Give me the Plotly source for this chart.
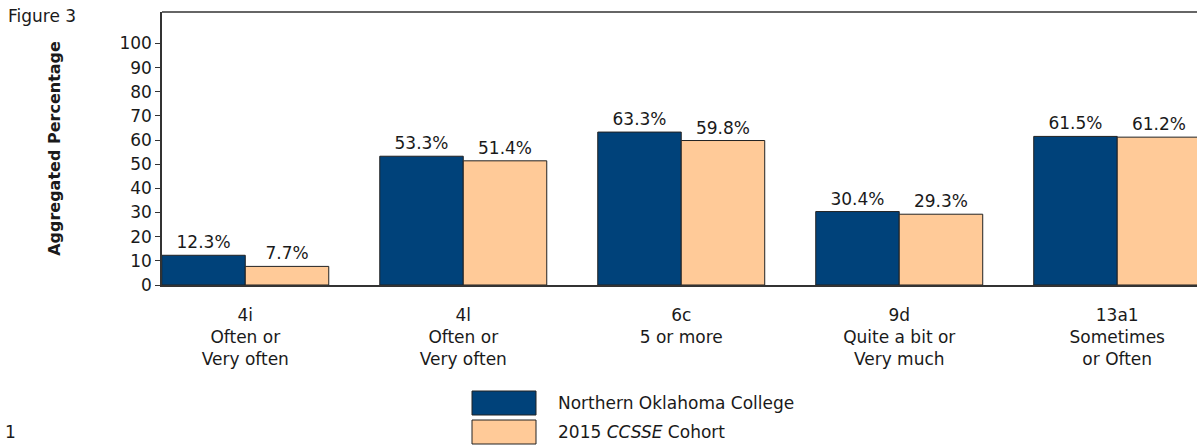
import plotly.graph_objects as go

categories = ["4i<br>Often or<br>Very often", "4l<br>Often or<br>Very often",
              "6c<br>5 or more", "9d<br>Quite a bit or<br>Very much",
              "13a1<br>Sometimes<br>or Often"]
college = [12.3, 53.3, 63.3, 30.4, 61.5]
cohort = [7.7, 51.4, 59.8, 29.3, 61.2]
series_names = ["Northern Oklahoma College", "2015 <i>CCSSE</i> Cohort"]
colors = ["#00427A", "#FFCA98"]
y_ticks = list(range(0, 101, 10))

FONT = "DejaVu Sans, Arial, sans-serif"
FS = 17
TXT = "#1a1a1a"

W, H = 1197, 447
ML, MR, MT, MB = 162, 0, 12, 162

fig = go.Figure()
for vals, name, col in zip([college, cohort], series_names, colors):
    fig.add_trace(go.Bar(
        x=list(range(len(categories))), y=vals, name=name,
        marker=dict(color=col, line=dict(color="#222222", width=1)),
        text=[f"{v:.1f}%" for v in vals], textposition="outside",
        textfont=dict(family=FONT, size=FS, color=TXT),
        cliponaxis=False, showlegend=False,
    ))

fig.update_layout(
    width=W, height=H,
    margin=dict(l=ML, r=MR, t=MT, b=MB),
    paper_bgcolor="white", plot_bgcolor="white",
    barmode="group", bargap=0.234, bargroupgap=0,
    font=dict(family=FONT, size=FS, color=TXT),
    xaxis=dict(
        tickmode="array", tickvals=list(range(len(categories))), ticktext=categories,
        range=[-0.382, 4.366], showgrid=False, zeroline=False,
        showline=True, linecolor="#333333", linewidth=1.5, ticks="",
        ticklabelstandoff=14,
        tickfont=dict(family=FONT, size=FS, color=TXT),
    ),
    yaxis=dict(
        range=[0, 113], tickmode="array", tickvals=y_ticks,
        showgrid=False, zeroline=False, showline=True, linecolor="#333333",
        linewidth=1.5, ticks="outside", ticklen=5, tickcolor="#333333",
        tickfont=dict(family=FONT, size=FS, color=TXT),
        title=dict(text="<b>Aggregated Percentage</b>", standoff=55,
                   font=dict(family=FONT, size=16, color=TXT)),
    ),
)

# top frame line
fig.add_shape(type="line", xref="paper", yref="paper", x0=0, x1=1, y0=1, y1=1,
              line=dict(color="#333333", width=1.5))

def py(pix):
    return (H - MB - pix) / (H - MT - MB)

def px(pix):
    return (pix - ML) / (W - ML - MR)

# custom legend
for i, (name, col) in enumerate(zip(series_names, colors)):
    top = 391 + i * 29
    fig.add_shape(type="rect", xref="paper", yref="paper",
                  x0=px(472), x1=px(536), y0=py(top), y1=py(top + 24),
                  fillcolor=col, line=dict(color="#222222", width=1))
    fig.add_annotation(xref="paper", yref="paper", x=px(556), y=py(top + 12),
                       text=name, showarrow=False, xanchor="left", yanchor="middle",
                       font=dict(family=FONT, size=FS, color=TXT))

fig.add_annotation(xref="paper", yref="paper", x=px(6), y=py(16), text="Figure 3",
                   showarrow=False, xanchor="left", yanchor="middle",
                   font=dict(family=FONT, size=FS, color=TXT))
fig.add_annotation(xref="paper", yref="paper", x=px(3), y=py(432), text="1",
                   showarrow=False, xanchor="left", yanchor="middle",
                   font=dict(family=FONT, size=FS, color=TXT))

fig.write_html("out.html", config={"displayModeBar": False},
               post_script="document.body.style.margin='0';document.body.style.overflow='hidden';")
